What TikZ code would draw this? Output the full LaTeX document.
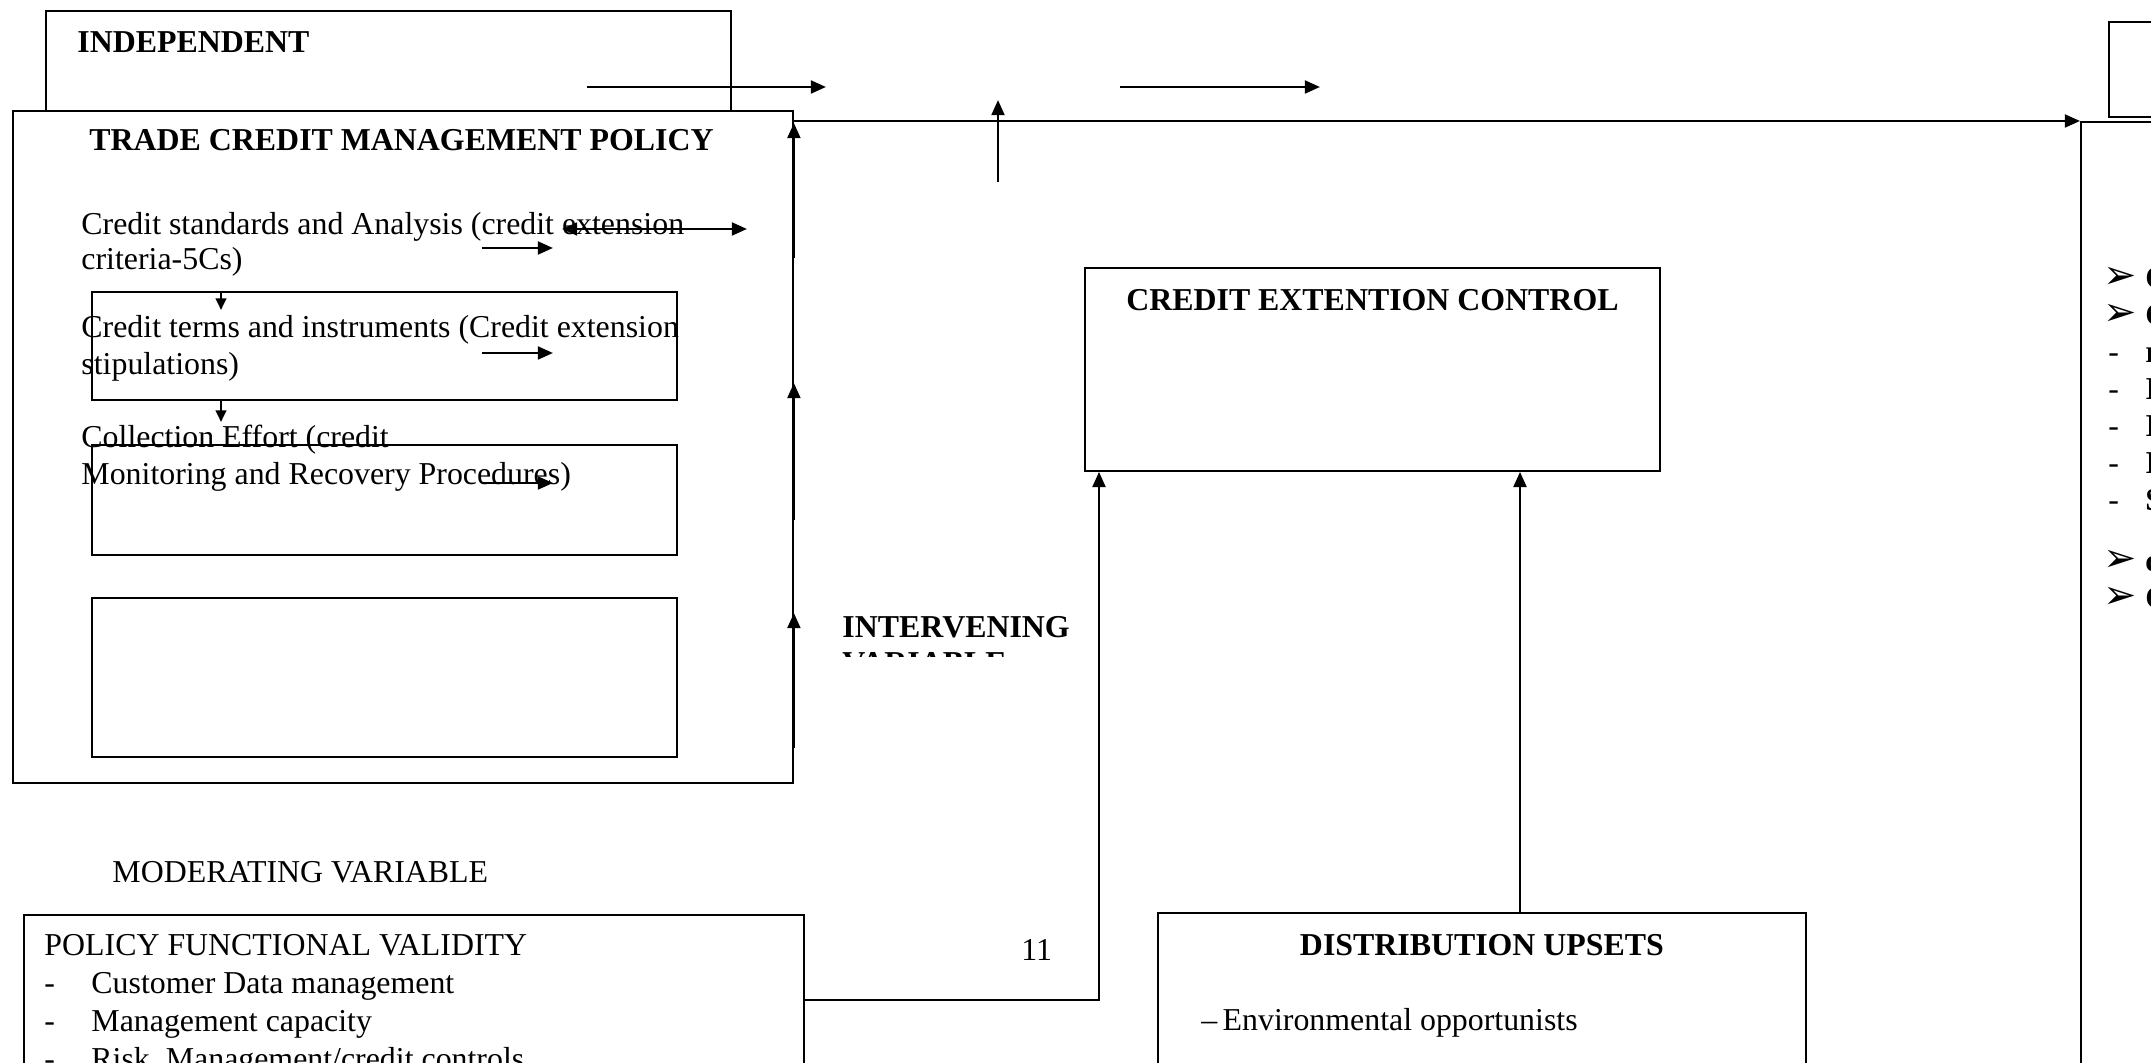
\documentclass[tikz,border=0pt]{standalone}
\usepackage{fontspec}
\setmainfont{Liberation Serif}
\newfontfamily\dingfont{DejaVu Sans}
\usetikzlibrary{arrows.meta,positioning}

\begin{document}
\begin{tikzpicture}[x=0.015cm,y=-0.015cm,
    font=\fontsize{13.6}{15}\selectfont,
    box/.style={draw,line width=0.8pt,anchor=north west,inner sep=0pt},
    txt/.style={anchor=base west,inner sep=0pt},
    hd/.style={txt,font=\fontsize{13.6}{15}\selectfont\bfseries},
    arr/.style={line width=1.1pt,-{Triangle[length=6.5pt,width=5.5pt]}},
    sarr/.style={line width=1pt,-{Triangle[length=5pt,width=4.5pt]}}]
  \useasboundingbox (0,0) rectangle (2151,1063);
  \clip (0,0) rectangle (2151,1063);

  % independent variable
  \node[box,minimum width=10.275cm,minimum height=1.5cm] (indep) at (45,10) {};
  \node[hd] (indept) at (77,53) {INDEPENDENT};
  \node[box,minimum width=11.7cm,minimum height=10.08cm] (policy) at (12,110) {};
  \node[hd] (policyt) at (89,151) {TRADE CREDIT MANAGEMENT POLICY};
  \node[box,minimum width=8.775cm,minimum height=1.62cm] (terms) at (91,291) {};
  \node[box,minimum width=8.775cm,minimum height=1.65cm] (collect) at (91,444) {};
  \node[box,minimum width=8.775cm,minimum height=2.385cm] (blank) at (91,597) {};
  \node[txt] (std1) at (81,235) {Credit standards and Analysis (credit extension};
  \node[txt] (std2) at (81,270) {criteria-5Cs)};
  \node[txt] (trm1) at (81,338) {Credit terms and instruments (Credit extension};
  \node[txt] (trm2) at (81,375) {stipulations)};
  \node[txt] (col1) at (81,448) {Collection Effort (credit};
  \node[txt] (col2) at (81,485) {Monitoring and Recovery Procedures)};

  \coordinate (d1) at (221,310);
  \coordinate (d2) at (221,422);
  \draw[sarr] (d1 |- terms.north) -- (d1);
  \draw[sarr] (d2 |- terms.south) -- (d2);
  \foreach \y [count=\i] in {248,353,483} {
    \coordinate (s\i) at (482,\y);
    \coordinate (e\i) at (553,\y);
    \draw[arr] (s\i) -- (e\i);
  }
  \coordinate (dbA) at (562,229);
  \coordinate (dbB) at (747,229);
  \draw[line width=1.1pt,{Triangle[length=6.5pt,width=5.5pt]}-{Triangle[length=6.5pt,width=5.5pt]}] (dbA) -- (dbB);

  % arrows up the right side of the policy box
  \foreach \a/\b in {258/123,520/383,748/613}
    \draw[arr] (policy.east |- 0,\a) -- (policy.east |- 0,\b);

  % top row
  \coordinate (t1) at (587,87);
  \coordinate (t2) at (826,87);
  \coordinate (t3) at (1120,87);
  \coordinate (t4) at (1320,87);
  \coordinate (t5) at (998,182);
  \coordinate (t6) at (998,100);
  \draw[arr] (t1) -- (t2);
  \draw[arr] (t3) -- (t4);
  \draw[arr] (t5) -- (t6);

  % dependent side
  \node[box,minimum width=2cm,minimum height=16cm] (outc) at (2080,121) {};
  \node[box,minimum width=2cm,minimum height=1.425cm] (topbox) at (2108,21) {};
  \draw[arr] (policy.north east |- 0,121) -- (outc.north west);
  \foreach \y in {289,326,572,609}
    \node[txt] at (2103,\y) {\dingfont\fontsize{17}{17}\selectfont ➢};
  \foreach \y in {363,400,437,474,511}
    \node[txt] at (2108,\y) {-};
  \foreach \y/\t in {289/C,326/C,363/r,400/I,437/I,474/I,511/S,572/c,609/C}
    \node[txt,font=\fontsize{13.6}{15}\selectfont\bfseries] at (2145,\y) {\t};

  % intervening variable
  \begin{scope}
    \clip (780,580) rectangle (1090,657);
    \node[hd] (interv) at (842,638) {INTERVENING};
    \node[hd] (varbl) at (842,674) {VARIABLE};
  \end{scope}
  \node[box,minimum width=8.625cm,minimum height=3.045cm] (ctrl) at (1084,267) {};
  \node[hd,anchor=base] (ctrlt) at (ctrl.north |- 0,311) {CREDIT EXTENTION CONTROL};

  % moderating variable
  \node[txt] (moder) at (112,883) {MODERATING VARIABLE};
  \node[box,minimum width=11.7cm,minimum height=3cm] (valid) at (23,914) {};
  \node[txt] (validt) at (44,956) {POLICY FUNCTIONAL VALIDITY};
  \foreach \y/\t in {993/{Customer Data management},1031/{Management capacity},1069/{Risk~ Management/credit controls}} {
    \node[txt] at (44,\y) {-};
    \node[txt] at (91,\y) {\t};
  }
  \node[txt] (pgnum) at (1021,960) {11};
  \coordinate (c1) at (1099,1000);
  \draw[arr] (valid.east |- c1) -- (c1) -- (c1 |- ctrl.south);

  \node[box,minimum width=9.72cm,minimum height=3cm] (ups) at (1157,912) {};
  \node[hd,anchor=base] (upst) at (ups.north |- 0,955) {DISTRIBUTION UPSETS};
  \node[txt] (env) at (1201,1030) {–\,Environmental opportunists};
  \coordinate (u1) at (1520,912);
  \draw[arr] (u1) -- (u1 |- ctrl.south);
\end{tikzpicture}
\end{document}
